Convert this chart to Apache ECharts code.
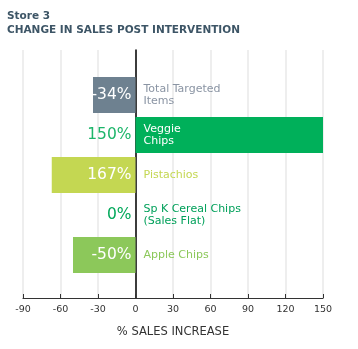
<!DOCTYPE html>
<html><head><meta charset="utf-8">
<script src="https://cdn.jsdelivr.net/npm/echarts@6/dist/echarts.min.js"></script>
<style>html,body{margin:0;padding:0;background:#fff}#c{width:358px;height:349px}</style>
</head><body><div id="c"></div>
<script>
const titleLine1 = 'Store 3';
const titleLine2 = 'CHANGE IN SALES POST INTERVENTION';
const categories = ['Total Targeted\nItems', 'Veggie\nChips', 'Pistachios', 'Sp K Cereal Chips\n(Sales Flat)', 'Apple Chips'];
const values = [-34, 150, -67, 0, -50];
const valueLabels = ['-34%', '150%', '167%', '0%', '-50%'];
const barColors = ['#6e8190', '#00b05a', '#c4d752', '#00a85a', '#8cc85a'];
const valueLabelColors = ['#ffffff', '#1cb56a', '#ffffff', '#00a85a', '#ffffff'];
const nameLabelColors = ['#8a94a3', '#ffffff', '#c4d752', '#00a05a', '#8cc85a'];
const xMin = -90, xMax = 150, xStep = 30;
const xName = '% SALES INCREASE';

const font = 'DejaVu Sans';
const chart = echarts.init(document.getElementById('c'));
chart.setOption({
  animation: false,
  textStyle: { fontFamily: font },
  title: [
    { text: titleLine1, left: 2, top: 6, textStyle: { fontSize: 10.5, fontWeight: 'bold', color: '#3d5566', fontFamily: font } },
    { text: titleLine2, left: 2, top: 20, textStyle: { fontSize: 10.5, fontWeight: 'bold', color: '#3d5566', fontFamily: font } }
  ],
  grid: [
    { left: 23, right: 35, top: 50, bottom: 51 },
    { left: 23, right: 35, top: 75, bottom: 74 }
  ],
  xAxis: [
    { gridIndex: 0, type: 'value', min: xMin, max: xMax, interval: xStep,
      axisLine: { show: true, lineStyle: { color: '#333', width: 1.2 } },
      axisTick: { show: true, inside: true, length: 4, lineStyle: { color: '#333' } },
      axisLabel: { color: '#333', fontSize: 9.5, margin: 7, fontFamily: font },
      splitLine: { show: true, lineStyle: { color: '#e8e8e8', width: 1.5 } },
      name: xName, nameLocation: 'middle', nameGap: 28,
      nameTextStyle: { color: '#333', fontSize: 11.5, fontFamily: font } },
    { gridIndex: 1, type: 'value', min: xMin, max: xMax, interval: xStep, show: false }
  ],
  yAxis: [
    { gridIndex: 0, type: 'value', min: 0, max: 1,
      axisLine: { show: true, onZero: true, lineStyle: { color: '#000', width: 1.5 } },
      axisTick: { show: false }, axisLabel: { show: false }, splitLine: { show: false } },
    { gridIndex: 1, type: 'category', data: categories, inverse: true, show: false }
  ],
  series: [
    { type: 'bar', xAxisIndex: 1, yAxisIndex: 1, barWidth: 36, barGap: '-100%',
      data: values.map((v, i) => ({ value: v, itemStyle: { color: barColors[i] } })) ,
      z: 3 },
    { type: 'bar', xAxisIndex: 1, yAxisIndex: 1, barWidth: 36, barGap: '-100%',
      itemStyle: { color: 'transparent' }, z: 4,
      data: values.map((v, i) => ({ value: 0, label: { show: true, position: 'left', distance: 4,
        formatter: valueLabels[i], color: valueLabelColors[i], fontSize: 15.5, fontFamily: font } })) },
    { type: 'bar', xAxisIndex: 1, yAxisIndex: 1, barWidth: 36, barGap: '-100%',
      itemStyle: { color: 'transparent' }, z: 4,
      data: values.map((v, i) => ({ value: 0, label: { show: true, position: 'right', distance: 8,
        formatter: categories[i], color: nameLabelColors[i], fontSize: 11, lineHeight: 12, align: 'left', fontFamily: font } })) }
  ]
});
</script></body></html>
